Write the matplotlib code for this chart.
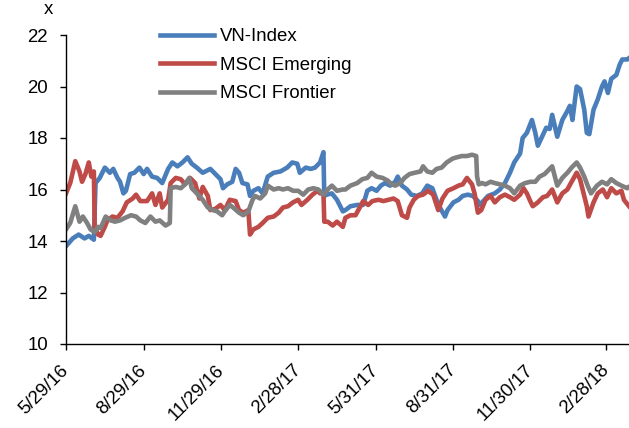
import numpy as np
import pandas as pd
import matplotlib
matplotlib.use("Agg")
import matplotlib.pyplot as plt

plt.rcParams['font.family'] = ['Liberation Sans', 'DejaVu Sans']

# days since 29 May 2016
start = pd.Timestamp('2016-05-29')

vn_days = [0, 8, 15, 22, 27, 33, 35, 40, 46, 52, 56, 61, 64, 68, 71, 76, 81, 87, 92, 96,
           102, 108, 114, 121, 126, 132, 138, 144, 149, 155, 162, 165, 171, 177, 183, 186,
           191, 197, 201, 205, 209, 215, 218, 222, 228, 233, 239, 246, 254, 262, 268, 274,
           277, 284, 290, 295, 301, 305, 306, 309, 315, 321, 328, 331, 337, 345, 352, 357,
           362, 368, 373, 378, 384, 390, 393, 398, 404, 409, 416, 422, 428, 434, 439, 443,
           449, 452, 459, 465, 470, 476, 482, 488, 490, 493, 500, 508, 514, 520, 526, 531,
           538, 541, 546, 552, 556, 559, 564, 569, 573, 576, 582, 588, 594, 597, 600, 605,
           609, 614, 617, 620, 625, 630, 635, 638, 642, 646, 652, 656, 659, 665, 667]
vn_index = [13.8, 14.1, 14.25, 14.1, 14.2, 14.05, 16.25, 16.45, 16.85, 16.65, 16.8, 16.45,
            16.3, 15.85, 15.95, 16.6, 16.65, 16.85, 16.6, 16.8, 16.5, 16.45, 16.25, 16.8,
            17.05, 16.9, 17.05, 17.25, 17.0, 16.85, 16.65, 16.7, 16.8, 16.6, 16.4, 16.05,
            16.2, 16.3, 16.8, 16.65, 16.25, 16.2, 15.75, 15.95, 16.05, 15.85, 16.5, 16.65,
            16.7, 16.85, 17.05, 17.0, 16.65, 16.85, 16.8, 16.85, 17.05, 17.45, 15.75, 15.8,
            15.85, 15.6, 15.15, 15.2, 15.35, 15.4, 15.4, 15.95, 16.05, 15.95, 16.15, 16.25,
            16.15, 16.3, 16.5, 16.15, 16.0, 15.8, 15.75, 15.85, 16.15, 16.05, 15.6, 15.3,
            14.95, 15.2, 15.5, 15.6, 15.75, 15.8, 15.75, 15.55, 15.4, 15.5, 15.75, 15.85,
            16.0, 16.25, 16.65, 17.05, 17.4, 18.0, 18.2, 18.7, 18.2, 17.7, 18.05, 18.4,
            18.35, 18.9, 18.05, 18.7, 19.05, 19.25, 18.7, 20.0, 19.9, 19.1, 18.2, 18.15,
            19.1, 19.5, 20.0, 20.2, 19.75, 20.3, 20.45, 20.85, 21.05, 21.05, 21.1]

em_days = [0, 5, 11, 16, 19, 23, 27, 30, 33, 34, 38, 41, 46, 49, 55, 61, 67, 72, 79, 83,
           88, 96, 102, 106, 111, 114, 121, 124, 130, 136, 141, 147, 153, 158, 162, 168,
           171, 177, 183, 188, 194, 201, 205, 210, 216, 218, 222, 228, 233, 239, 246, 252,
           257, 263, 269, 275, 279, 286, 292, 298, 301, 305, 306, 310, 316, 321, 328, 331,
           337, 343, 348, 352, 358, 363, 370, 376, 382, 388, 393, 398, 404, 407, 412, 417,
           423, 429, 435, 441, 446, 452, 459, 465, 470, 475, 481, 484, 488, 492, 497, 503,
           508, 514, 520, 526, 531, 538, 542, 546, 550, 553, 559, 565, 570, 576, 582, 588,
           594, 599, 605, 609, 612, 617, 619, 625, 630, 636, 641, 646, 652, 658, 661, 667]
msci_em = [15.85, 16.25, 17.1, 16.7, 16.3, 16.6, 17.05, 16.5, 16.7, 14.55, 14.25, 14.2,
           14.55, 14.8, 14.95, 14.9, 15.15, 15.5, 15.65, 15.8, 15.55, 15.55, 15.85, 15.4,
           15.85, 15.3, 15.6, 16.25, 16.45, 16.4, 16.2, 16.45, 16.25, 15.65, 16.1, 15.75,
           15.2, 15.25, 15.4, 15.2, 15.6, 15.55, 15.2, 15.1, 15.2, 14.25, 14.45, 14.55,
           14.7, 14.9, 14.95, 15.1, 15.3, 15.35, 15.5, 15.6, 15.4, 15.6, 15.8, 15.95,
           15.85, 15.85, 14.75, 14.75, 14.6, 14.75, 14.55, 14.9, 15.0, 15.0, 15.3, 15.55,
           15.4, 15.55, 15.6, 15.55, 15.6, 15.65, 15.55, 15.0, 14.9, 15.3, 15.6, 15.75,
           15.8, 15.95, 15.8, 15.2, 15.65, 15.95, 16.05, 16.15, 16.2, 16.45, 16.2, 15.85,
           15.1, 15.2, 15.6, 15.75, 15.5, 15.7, 15.8, 15.7, 15.6, 15.8, 16.05, 15.85,
           15.55, 15.35, 15.5, 15.7, 15.75, 16.0, 15.5, 15.85, 16.0, 16.3, 16.65, 16.4,
           16.0, 15.35, 14.95, 15.5, 15.85, 16.0, 15.7, 16.05, 15.85, 15.95, 15.6, 15.35]

fm_days = [0, 5, 11, 16, 20, 25, 29, 34, 38, 41, 47, 53, 58, 64, 70, 77, 83, 88, 94, 100,
           106, 111, 118, 123, 124, 130, 136, 141, 146, 149, 155, 162, 168, 174, 179, 185,
           188, 194, 198, 205, 210, 216, 221, 224, 230, 236, 239, 246, 252, 257, 263, 269,
           275, 281, 287, 293, 299, 305, 310, 315, 321, 328, 331, 337, 345, 351, 357, 362,
           368, 375, 381, 386, 390, 396, 401, 407, 413, 420, 423, 428, 434, 439, 445, 451,
           458, 463, 469, 475, 481, 486, 487, 489, 493, 497, 503, 508, 514, 520, 526, 531,
           538, 544, 550, 556, 561, 567, 573, 576, 582, 588, 594, 599, 605, 609, 614, 618,
           622, 629, 635, 641, 646, 652, 658, 665, 667]
msci_fm = [14.45, 14.7, 15.35, 14.75, 14.95, 14.7, 14.45, 14.35, 14.55, 14.5, 14.95, 14.8,
           14.75, 14.8, 14.9, 15.0, 14.95, 14.8, 14.7, 14.95, 14.75, 14.8, 14.6, 14.7,
           16.05, 16.1, 16.05, 16.2, 16.45, 16.05, 15.85, 15.6, 15.3, 15.2, 15.15, 15.0,
           15.15, 15.4, 15.3, 15.1, 15.0, 15.15, 15.6, 15.75, 15.65, 15.85, 16.15, 16.0,
           16.05, 16.0, 16.05, 15.95, 15.95, 15.8, 16.0, 16.05, 16.0, 15.8, 16.0, 16.15,
           15.95, 16.0, 16.0, 16.15, 16.25, 16.4, 16.45, 16.65, 16.5, 16.45, 16.35, 16.2,
           16.15, 16.25, 16.45, 16.6, 16.65, 16.7, 16.9, 16.7, 16.65, 16.8, 16.85, 17.05,
           17.2, 17.25, 17.3, 17.3, 17.35, 17.3, 16.5, 16.2, 16.25, 16.2, 16.3, 16.25,
           16.2, 16.15, 16.05, 15.85, 16.15, 16.25, 16.3, 16.3, 16.5, 16.6, 16.8, 16.9,
           16.15, 16.45, 16.65, 16.85, 17.05, 16.85, 16.5, 16.15, 15.85, 16.15, 16.3,
           16.2, 16.4, 16.25, 16.15, 16.05, 16.1]

tick_dates = ['2016-05-29', '2016-08-29', '2016-11-29', '2017-02-28',
              '2017-05-31', '2017-08-31', '2017-11-30', '2018-02-28']
tick_labels = ['5/29/16', '8/29/16', '11/29/16', '2/28/17',
               '5/31/17', '8/31/17', '11/30/17', '2/28/18']


def to_dates(days):
    return start + pd.to_timedelta(days, unit='D')


fig = plt.figure(figsize=(6.29, 4.28), dpi=100)
ax = fig.add_axes([66/629, 1 - 344/428, 1 - 66/629, (344 - 35)/428])

lw = 3.3
ax.plot(to_dates(vn_days), vn_index, color='#4A7EBB', lw=lw, label='VN-Index')
ax.plot(to_dates(em_days), msci_em, color='#BE4B48', lw=lw, label='MSCI Emerging')
ax.plot(to_dates(fm_days), msci_fm, color='#808080', lw=lw, label='MSCI Frontier')

ax.set_ylim(10, 22)
ax.set_yticks(np.arange(10, 23, 2))
ax.set_xlim(start, start + pd.Timedelta(days=667))
ax.set_xticks(pd.to_datetime(tick_dates))
ax.set_xticklabels(tick_labels, rotation=45, ha='right', va='center', rotation_mode='anchor')

for s in ['top', 'right']:
    ax.spines[s].set_visible(False)
for s in ['left', 'bottom']:
    ax.spines[s].set_linewidth(1.0)
ax.tick_params(axis='both', direction='out', length=4, width=1, labelsize=13.4)
ax.tick_params(axis='y', pad=9)
ax.tick_params(axis='x', pad=13)

fig.text(48/629, 1 - 10/428, 'x', fontsize=13.4, ha='center', va='center')

fig.legend(loc='upper left', bbox_to_anchor=(160/629, 1 - 28/428), frameon=False,
           fontsize=13.4, handlelength=2.9, handletextpad=0.3, labelspacing=0.62,
           borderpad=0, borderaxespad=0)

fig.savefig('out.png', dpi=100)
